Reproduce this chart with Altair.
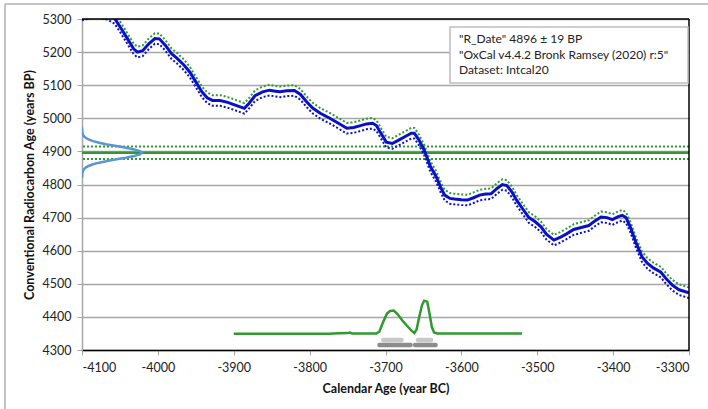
import altair as alt
import pandas as pd

# Calibration curve (IntCal20)
cal_x = [-4100, -4090, -4078, -4066, -4057, -4048, -4040, -4032, -4027, -4020, -4012, -4004, -3998,
         -3990, -3982, -3975, -3966, -3958, -3950, -3942, -3935, -3928, -3918, -3908, -3898, -3886,
         -3880, -3872, -3862, -3853, -3845, -3839, -3830, -3820, -3812, -3804, -3796, -3786, -3774,
         -3762, -3751, -3742, -3734, -3725, -3717, -3712, -3706, -3699, -3691, -3682, -3674, -3666,
         -3662, -3656, -3649, -3641, -3633, -3627, -3622, -3615, -3609, -3600, -3592, -3584, -3576,
         -3568, -3561, -3553, -3546, -3540, -3533, -3527, -3520, -3511, -3503, -3495, -3488, -3478,
         -3470, -3462, -3452, -3442, -3432, -3424, -3416, -3408, -3401, -3394, -3388, -3383, -3377,
         -3370, -3362, -3355, -3347, -3337, -3330, -3322, -3313, -3300]
cal_y = [5312, 5318, 5320, 5314, 5302, 5270, 5240, 5210, 5200, 5204, 5225, 5241, 5240,
         5220, 5195, 5182, 5162, 5140, 5110, 5080, 5062, 5054, 5054, 5048, 5040, 5030,
         5045, 5068, 5080, 5085, 5082, 5080, 5083, 5084, 5072, 5050, 5031, 5015, 5001,
         4985, 4970, 4972, 4977, 4983, 4985, 4978, 4955, 4928, 4924, 4935, 4945, 4955,
         4955, 4935, 4904, 4855, 4823, 4790, 4768, 4758, 4756, 4754, 4753, 4760, 4768,
         4771, 4772, 4788, 4800, 4797, 4776, 4752, 4729, 4700, 4688, 4672, 4650, 4632,
         4640, 4650, 4664, 4670, 4676, 4690, 4702, 4700, 4694, 4702, 4707, 4700, 4670,
         4625, 4582, 4562, 4548, 4535, 4515, 4496, 4482, 4473]
cal_sig = [16] * len(cal_x)

# Measured date R_Date 4896 +/- 19 BP, probability on the radiocarbon axis
date_mean = 4896
date_err = 19
gauss_y = [4820, 4826, 4836, 4841, 4846, 4851, 4856, 4861, 4866, 4871, 4876, 4881, 4886, 4891, 4896,
           4901, 4906, 4911, 4916, 4921, 4926, 4931, 4936, 4941, 4946, 4951, 4956, 4966, 4972]
gauss_w = [0, 0.1, 0.5, 1.2, 2.5, 4.8, 8.6, 14.5, 22.7, 33.2, 45.4, 57.9, 68.8, 76.3, 79,
           76.3, 68.8, 57.9, 45.4, 33.2, 22.7, 14.5, 8.6, 4.8, 2.5, 1.2, 0.5, 0.1, 0]

# Calibrated distribution on the calendar axis
post_x = [-3900, -3772, -3770, -3750, -3747, -3744, -3712, -3708, -3703, -3698, -3694, -3689, -3684,
          -3678, -3672, -3666, -3662, -3659, -3656, -3652, -3649, -3645, -3642, -3639, -3636, -3632, -3520]
post_y = [4349, 4349, 4350, 4351, 4353, 4350, 4350, 4356, 4385, 4410, 4418, 4419, 4408,
          4390, 4374, 4359, 4351, 4362, 4395, 4435, 4449, 4446, 4410, 4370, 4353, 4350, 4350]

# Highest-probability ranges (1 sigma light, 2 sigma dark)
r1_start = [-3703, -3657]
r1_end = [-3679, -3640]
r1_level = [4330, 4330]
r2_start = [-3708, -3661]
r2_end = [-3667, -3634]
r2_level = [4315, 4315]

legend_lines = ['"R_Date" 4896 \u00b1 19 BP',
                '"OxCal v4.4.2 Bronk Ramsey (2020) r:5"',
                'Dataset: Intcal20']

y_ticks = list(range(4300, 5301, 100))
x_ticks = list(range(-4100, -3299, 100))

BLUE = "#0A10C8"
GREEN = "#2F9A2F"
FONT = "Lato"

cal = pd.DataFrame({"x": cal_x, "y": cal_y, "s": cal_sig})
cal["up"] = cal["y"] + cal["s"]
cal["lo"] = cal["y"] - cal["s"]
gauss = pd.DataFrame({"i": list(range(len(gauss_y))), "y": gauss_y,
                      "x": [-4100 + w for w in gauss_w]})
post = pd.DataFrame({"x": post_x, "y": post_y})
r1 = pd.DataFrame({"x": r1_start, "x2": r1_end, "y": r1_level})
r2 = pd.DataFrame({"x": r2_start, "x2": r2_end, "y": r2_level})

xs = alt.Scale(domain=[-4100, -3300], nice=False, zero=False)
ys = alt.Scale(domain=[4300, 5300], nice=False, zero=False)

xax = alt.Axis(values=x_ticks, title="Calendar Age (year BC)", grid=False,
               domainColor="#000000", domainWidth=1.5, tickColor="#A6A6A6", tickSize=5,
               labelFont=FONT, labelFontSize=12.5, labelColor="#222222", labelPadding=6,
               labelOverlap=False, labelExpr="'' + datum.value",
               titleFont=FONT, titleFontSize=12.5, titleFontWeight="bold", titleColor="#111111",
               titlePadding=9)
yax = alt.Axis(values=y_ticks, title="Conventional Radiocarbon Age (years BP)", grid=True,
               gridColor="#A6A6A6", gridWidth=1.5, domainColor="#A6A6A6", domainWidth=1.5,
               tickColor="#A6A6A6", tickSize=5, labelFont=FONT, labelFontSize=12.5,
               labelColor="#222222", labelPadding=6, labelOverlap=False,
               labelExpr="'' + datum.value", titleFont=FONT, titleFontSize=12.5,
               titleFontWeight="bold", titleColor="#111111", titlePadding=6)


def X(f="x"):
    return alt.X(f + ":Q", scale=xs, axis=xax)


def Y(f="y"):
    return alt.Y(f + ":Q", scale=ys, axis=yax)


# horizontal date lines
hline = alt.Chart(pd.DataFrame({"y": [date_mean]})).mark_rule(
    color=GREEN, strokeWidth=2.5).encode(y=Y())
hdots = alt.Chart(pd.DataFrame({"y": [date_mean - date_err, date_mean + date_err]})).mark_rule(
    color=GREEN, strokeWidth=2, strokeDash=[2, 2]).encode(y=Y())

gline = alt.Chart(gauss).mark_line(color="#5A96D2", strokeWidth=2.5, clip=True).encode(
    x=X(), y=Y(), order="i:Q")

lo = alt.Chart(cal).mark_line(color=BLUE, strokeWidth=2, strokeDash=[2, 2], clip=True).encode(
    x=X(), y=Y("lo"))
up = alt.Chart(cal).mark_line(color=GREEN, strokeWidth=2, strokeDash=[2, 2], clip=True).encode(
    x=X(), y=Y("up"))
mid = alt.Chart(cal).mark_line(color=BLUE, strokeWidth=3, clip=True).encode(x=X(), y=Y())

pline = alt.Chart(post).mark_line(color=GREEN, strokeWidth=2.5).encode(x=X(), y=Y())

bar1 = alt.Chart(r1).mark_rule(color="#C8C8C8", strokeWidth=4.5, strokeCap="round").encode(
    x=X(), x2="x2:Q", y=Y())
bar2 = alt.Chart(r2).mark_rule(color="#8C8C8C", strokeWidth=4.5, strokeCap="round").encode(
    x=X(), x2="x2:Q", y=Y())

# plot frame: top and right edges
top = alt.Chart(pd.DataFrame({"y": [5300]})).mark_rule(color="#000000", strokeWidth=1.5).encode(
    y=Y())
right = alt.Chart(pd.DataFrame({"x": [-3300]})).mark_rule(color="#000000", strokeWidth=1.5).encode(
    x=X())

# outer chart border (partly visible)
outer_top = alt.Chart().mark_rule(color="#B0B0B0", strokeWidth=1.5).encode(
    x=alt.value(-77), x2=alt.value(640), y=alt.value(-15))
outer_left = alt.Chart().mark_rule(color="#B0B0B0", strokeWidth=1.5).encode(
    x=alt.value(-77), y=alt.value(-15), y2=alt.value(400))

# legend text box
box = alt.Chart().mark_rect(fill="#FFFFFF", stroke="#BDBDBD", strokeWidth=1.5).encode(
    x=alt.value(368), x2=alt.value(606), y=alt.value(8), y2=alt.value(64))
txt = alt.Chart().mark_text(align="left", baseline="middle", font=FONT, fontSize=12,
                            color="#222222", lineHeight=15.5).encode(
    x=alt.value(377), y=alt.value(20), text=alt.value(legend_lines))

chart = alt.layer(
    hline, hdots, gline, lo, up, mid, pline, bar1, bar2, top, right,
    box, txt, outer_top, outer_left
).properties(
    width=607, height=331,
    autosize=alt.AutoSizeParams(type="none"),
    padding={"left": 82, "top": 19, "right": 19, "bottom": 59},
    background="#FFFFFF",
).configure_view(stroke=None)

chart.save("out.html", embed_options={"renderer": "svg", "actions": False})
